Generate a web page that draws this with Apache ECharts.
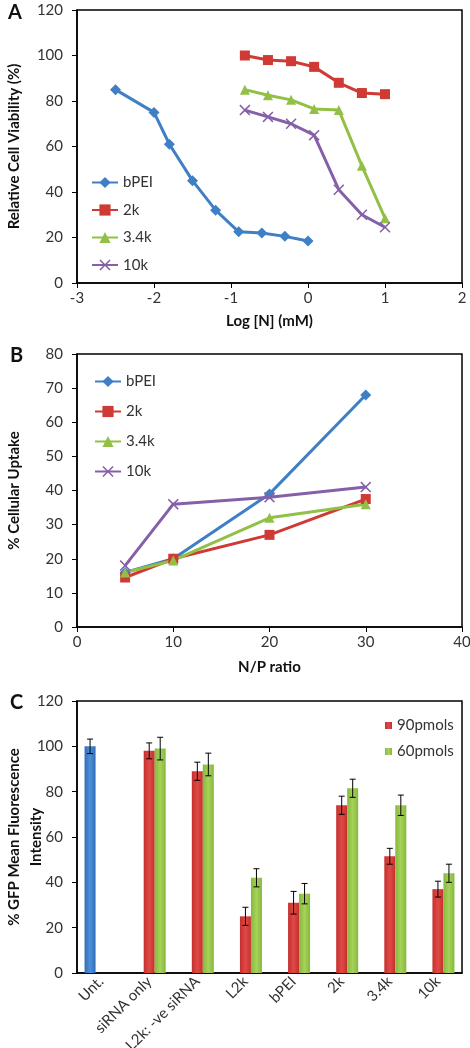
<!DOCTYPE html>
<html><head><meta charset="utf-8">
<script src="https://cdn.jsdelivr.net/npm/echarts@6/dist/echarts.min.js"></script>
<style>html,body{margin:0;padding:0;background:#fff}#c{width:470px;height:1048px}</style>
</head><body><div id="c"></div>
<script>
// Panel A: cell viability vs Log [N]
const aX_bPEI = [-2.5, -2, -1.8, -1.5, -1.2, -0.9, -0.6, -0.3, 0];
const aY_bPEI = [85, 75, 61, 45, 32, 22.5, 22, 20.5, 18.5];
const aX_poly = [-0.82, -0.52, -0.22, 0.08, 0.4, 0.7, 1.0];
const aY_2k = [100, 98, 97.5, 95, 88, 83.5, 83];
const aY_34k = [85, 82.5, 80.5, 76.5, 76, 51.5, 28.5];
const aY_10k = [76, 73, 70, 65, 41, 30, 24.5];
// Panel B: cellular uptake vs N/P ratio
const bX = [5, 10, 20, 30];
const bY_bPEI = [16, 20, 39, 68];
const bY_2k = [14.5, 20, 27, 37.5];
const bY_34k = [16, 19.5, 32, 36];
const bY_10k = [18, 36, 38, 41];
// Panel C: GFP knockdown
const cCats = ['Unt.', 'siRNA only', 'L2k: -ve siRNA', 'L2k', 'bPEI', '2k', '3.4k', '10k'];
const cUnt = [100, null, null, null, null, null, null, null];
const cUntErr = [3.2, null, null, null, null, null, null, null];
const c90 = [null, 98, 89, 25, 31, 74, 51.5, 37];
const c90Err = [null, 3.5, 4, 4, 5, 4, 3.5, 3.5];
const c60 = [null, 99, 92, 42, 35, 81.5, 74, 44];
const c60Err = [null, 5, 5, 4, 4.5, 4, 4.5, 4];
const seriesNames = ['bPEI', '2k', '3.4k', '10k'];

const FONT = 'Lato';
const BLUE = '#3f7fc6', RED = '#cf3a35', GREEN = '#92c047', PURPLE = '#8560a8';
const XSYM = 'path://M0,1 L1,0 L5,4 L9,0 L10,1 L6,5 L10,9 L9,10 L5,6 L1,10 L0,9 L4,5 Z';
const styles = [
  {color: BLUE, symbol: 'diamond', size: 11},
  {color: RED, symbol: 'rect', size: 10},
  {color: GREEN, symbol: 'triangle', size: 10},
  {color: PURPLE, symbol: XSYM, size: 11}
];
const pairs = (xs, ys) => xs.map((x, i) => [x, ys[i]]);

function lineSeries(name, st, data, idx) {
  return {
    type: 'line', name: name, xAxisIndex: idx, yAxisIndex: idx,
    data: data, symbol: st.symbol, symbolSize: st.size,
    lineStyle: {color: st.color, width: 3},
    itemStyle: {color: st.color},
    z: 3
  };
}

const axisBase = {
  nameMoveOverlap: false,
  axisLine: {show: true, onZero: false, lineStyle: {color: '#000', width: 1.5}},
  axisTick: {show: true, inside: false, length: 5, lineStyle: {color: '#000'}},
  splitLine: {show: false},
  axisLabel: {fontFamily: FONT, fontSize: 15, color: '#333'},
  nameTextStyle: {fontFamily: FONT, fontSize: 15, fontWeight: 'bold', color: '#111'}
};
const yLabel = {fontFamily: FONT, fontSize: 15, color: '#333', margin: 14};

function barGrad(c1, c2) {
  return new echarts.graphic.LinearGradient(0, 0, 1, 0, [
    {offset: 0, color: c1}, {offset: 0.5, color: c2}, {offset: 1, color: c1}
  ]);
}

function errSeries(vals, errs, offset) {
  const data = [];
  vals.forEach((v, i) => { if (v != null) data.push([i, v, errs[i]]); });
  return {
    type: 'custom', xAxisIndex: 2, yAxisIndex: 2, z: 5,
    data: data,
    renderItem: function (params, api) {
      const i = api.value(0), v = api.value(1), e = api.value(2);
      const top = api.coord([i, v + e]);
      const bot = api.coord([i, v - e]);
      const x = top[0] + offset;
      const s = {stroke: '#000', lineWidth: 1};
      return {type: 'group', children: [
        {type: 'line', shape: {x1: x, y1: top[1], x2: x, y2: bot[1]}, style: s},
        {type: 'line', shape: {x1: x - 3, y1: top[1], x2: x + 3, y2: top[1]}, style: s},
        {type: 'line', shape: {x1: x - 3, y1: bot[1], x2: x + 3, y2: bot[1]}, style: s}
      ]};
    }
  };
}

const chart = echarts.init(document.getElementById('c'), null, {renderer: 'canvas'});
const series = [];
seriesNames.forEach((n, k) => {
  const data = k === 0 ? pairs(aX_bPEI, aY_bPEI) : pairs(aX_poly, [null, aY_2k, aY_34k, aY_10k][k]);
  series.push(lineSeries(n, styles[k], data, 0));
});
[bY_bPEI, bY_2k, bY_34k, bY_10k].forEach((ys, k) => {
  series.push(lineSeries(seriesNames[k], styles[k], pairs(bX, ys), 1));
});
series.push({type: 'bar', name: 'Unt.', xAxisIndex: 2, yAxisIndex: 2, data: cUnt, barWidth: 11, barGap: '0%',
  itemStyle: {color: barGrad('#2f6cb8', '#4f8fd8')}});
series.push({type: 'bar', name: '90pmols', xAxisIndex: 2, yAxisIndex: 2, data: c90, barWidth: 11, barGap: '0%',
  itemStyle: {color: barGrad('#c42f2f', '#e04a45')}});
series.push({type: 'bar', name: '60pmols', xAxisIndex: 2, yAxisIndex: 2, data: c60, barWidth: 11, barGap: '0%',
  itemStyle: {color: barGrad('#86b83c', '#a6d25a')}});
series.push(errSeries(cUnt, cUntErr, -11));
series.push(errSeries(c90, c90Err, 0));
series.push(errSeries(c60, c60Err, 11));

const gridBase = {left: 77, width: 385, show: true, borderColor: '#000', borderWidth: 1.5, backgroundColor: '#fff',
  containLabel: false, outerBoundsMode: 'none'};
const legendText = {fontFamily: FONT, fontSize: 15, color: '#333'};

chart.setOption({
  animation: false,
  backgroundColor: '#fff',
  title: [
    {text: 'A', left: 3, top: -2, textStyle: {fontFamily: FONT, fontSize: 20, fontWeight: 'bold', color: '#111'}},
    {text: 'B', left: 5, top: 341, textStyle: {fontFamily: FONT, fontSize: 20, fontWeight: 'bold', color: '#111'}},
    {text: 'C', left: 5, top: 688, textStyle: {fontFamily: FONT, fontSize: 20, fontWeight: 'bold', color: '#111'}}
  ],
  grid: [
    Object.assign({top: 10, height: 273}, gridBase),
    Object.assign({top: 354, height: 273}, gridBase),
    Object.assign({top: 701, height: 272}, gridBase)
  ],
  legend: [
    {orient: 'vertical', left: 86, top: 170, itemGap: 12.5, itemWidth: 26, itemHeight: 14,
      data: seriesNames, textStyle: legendText, selectedMode: false},
    {orient: 'vertical', left: 89, top: 369, itemGap: 15, itemWidth: 26, itemHeight: 14,
      data: seriesNames, textStyle: legendText, selectedMode: false},
    {orient: 'vertical', left: 380, top: 713, itemGap: 11, itemWidth: 7, itemHeight: 7, icon: 'rect',
      data: ['90pmols', '60pmols'], textStyle: legendText, selectedMode: false}
  ],
  xAxis: [
    Object.assign({}, axisBase, {type: 'value', gridIndex: 0, min: -3, max: 2, interval: 1,
      name: 'Log [N] (mM)', nameLocation: 'middle', nameGap: 31}),
    Object.assign({}, axisBase, {type: 'value', gridIndex: 1, min: 0, max: 40, interval: 10,
      name: 'N/P ratio', nameLocation: 'middle', nameGap: 33}),
    Object.assign({}, axisBase, {type: 'category', gridIndex: 2, data: cCats,
      axisTick: {show: false},
      axisLabel: {fontFamily: FONT, fontSize: 15, color: '#333', rotate: 45, interval: 0, margin: 6}})
  ],
  yAxis: [
    Object.assign({}, axisBase, {type: 'value', gridIndex: 0, min: 0, max: 120, interval: 20, axisLabel: yLabel,
      name: 'Relative Cell Viability (%)', nameLocation: 'middle', nameGap: 55}),
    Object.assign({}, axisBase, {type: 'value', gridIndex: 1, min: 0, max: 80, interval: 10, axisLabel: yLabel,
      name: '% Cellular Uptake', nameLocation: 'middle', nameGap: 55}),
    Object.assign({}, axisBase, {type: 'value', gridIndex: 2, min: 0, max: 120, interval: 20, axisLabel: yLabel,
      name: '% GFP Mean Fluorescence\nIntensity', nameLocation: 'middle', nameGap: 30,
      nameTextStyle: {fontFamily: FONT, fontSize: 15, fontWeight: 'bold', color: '#111', lineHeight: 22}})
  ],
  series: series
});
</script></body></html>
